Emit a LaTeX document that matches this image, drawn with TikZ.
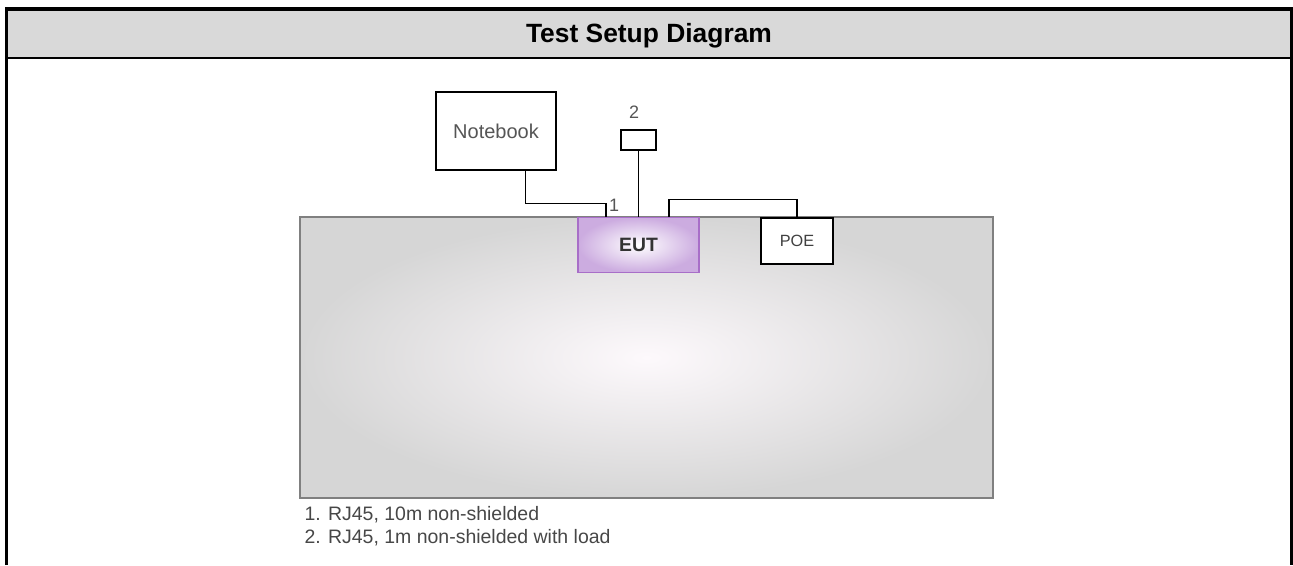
\documentclass[tikz,border=0pt]{standalone}
\usepackage{fontspec}
\setmainfont{Liberation Sans}
\definecolor{headgray}{RGB}{217,217,217}
\definecolor{tableedge}{RGB}{128,128,128}
\definecolor{tableout}{RGB}{214,214,214}
\definecolor{tablein}{RGB}{253,249,252}
\definecolor{eutline}{RGB}{168,110,200}
\definecolor{eutout}{RGB}{204,172,224}
\definecolor{txtgray}{RGB}{85,85,85}

\begin{document}
\begin{tikzpicture}[x=0.75pt,y=-0.75pt,line width=1pt,
  box/.style={draw,fill=white,inner sep=0pt,text=txtgray},
  lbl/.style={inner sep=0pt,text=txtgray,font=\fontsize{13.5}{16}\selectfont}]
  \useasboundingbox (0,0) rectangle (1293,565);
  \fill[headgray] (6.5,9) rectangle (1291.5,57.5);
  \draw[line width=1.5pt] (6.5,57.5)--(1291.5,57.5);
  \draw[line width=2.4pt] (6.5,565)--(6.5,9)--(1291.5,9)--(1291.5,565);
  \node[anchor=base,font=\bfseries\fontsize{19.8}{23}\selectfont] (title) at (649,42) {Test Setup Diagram};
  \node[draw=tableedge,line width=1.1pt,shading=radial,inner color=tablein,outer color=tableout,
    minimum width=519.75pt,minimum height=210.75pt] (table) at (646.5,357.5) {};
  \node[box,minimum width=90pt,minimum height=58.5pt,font=\fontsize{15}{17}\selectfont] (nb) at (496,131) {Notebook};
  \node[box,minimum width=26.25pt,minimum height=15pt] (load) at (638.5,140) {};
  \node[draw=eutline,line width=1.1pt,shading=radial,inner color=white,outer color=eutout,
    minimum width=90.75pt,minimum height=41.25pt,text=black!80,font=\bfseries\fontsize{14.5}{17}\selectfont] (eut) at (638.5,245) {EUT};
  \node[box,minimum width=54pt,minimum height=34.5pt,text=black!75,font=\fontsize{12.2}{14}\selectfont] (poe) at (797,241) {POE};
  \coordinate (k1) at (525.5,203.5);
  \coordinate (k2) at (606,203.5);
  \coordinate (k3) at (669,199.5);
  \coordinate (k4) at (797,199.5);
  \draw (nb.south -| k1)--(k1)--(k2)--(eut.north -| k2);
  \draw (load.south)--(eut.north -| load.south);
  \draw (eut.north -| k3)--(k3)--(k4)--(poe.north);
  \node[lbl] (one) at (614,205) {1};
  \node[lbl] (two) at (634,112) {2};
  \node[lbl,anchor=base west,text=black!72,font=\fontsize{14.6}{17}\selectfont] (note1) at (304,520) {1. RJ45, 10m non-shielded};
  \node[lbl,anchor=base west,text=black!72,font=\fontsize{14.6}{17}\selectfont] (note2) at (304,543) {2. RJ45, 1m non-shielded with load};
\end{tikzpicture}
\end{document}
